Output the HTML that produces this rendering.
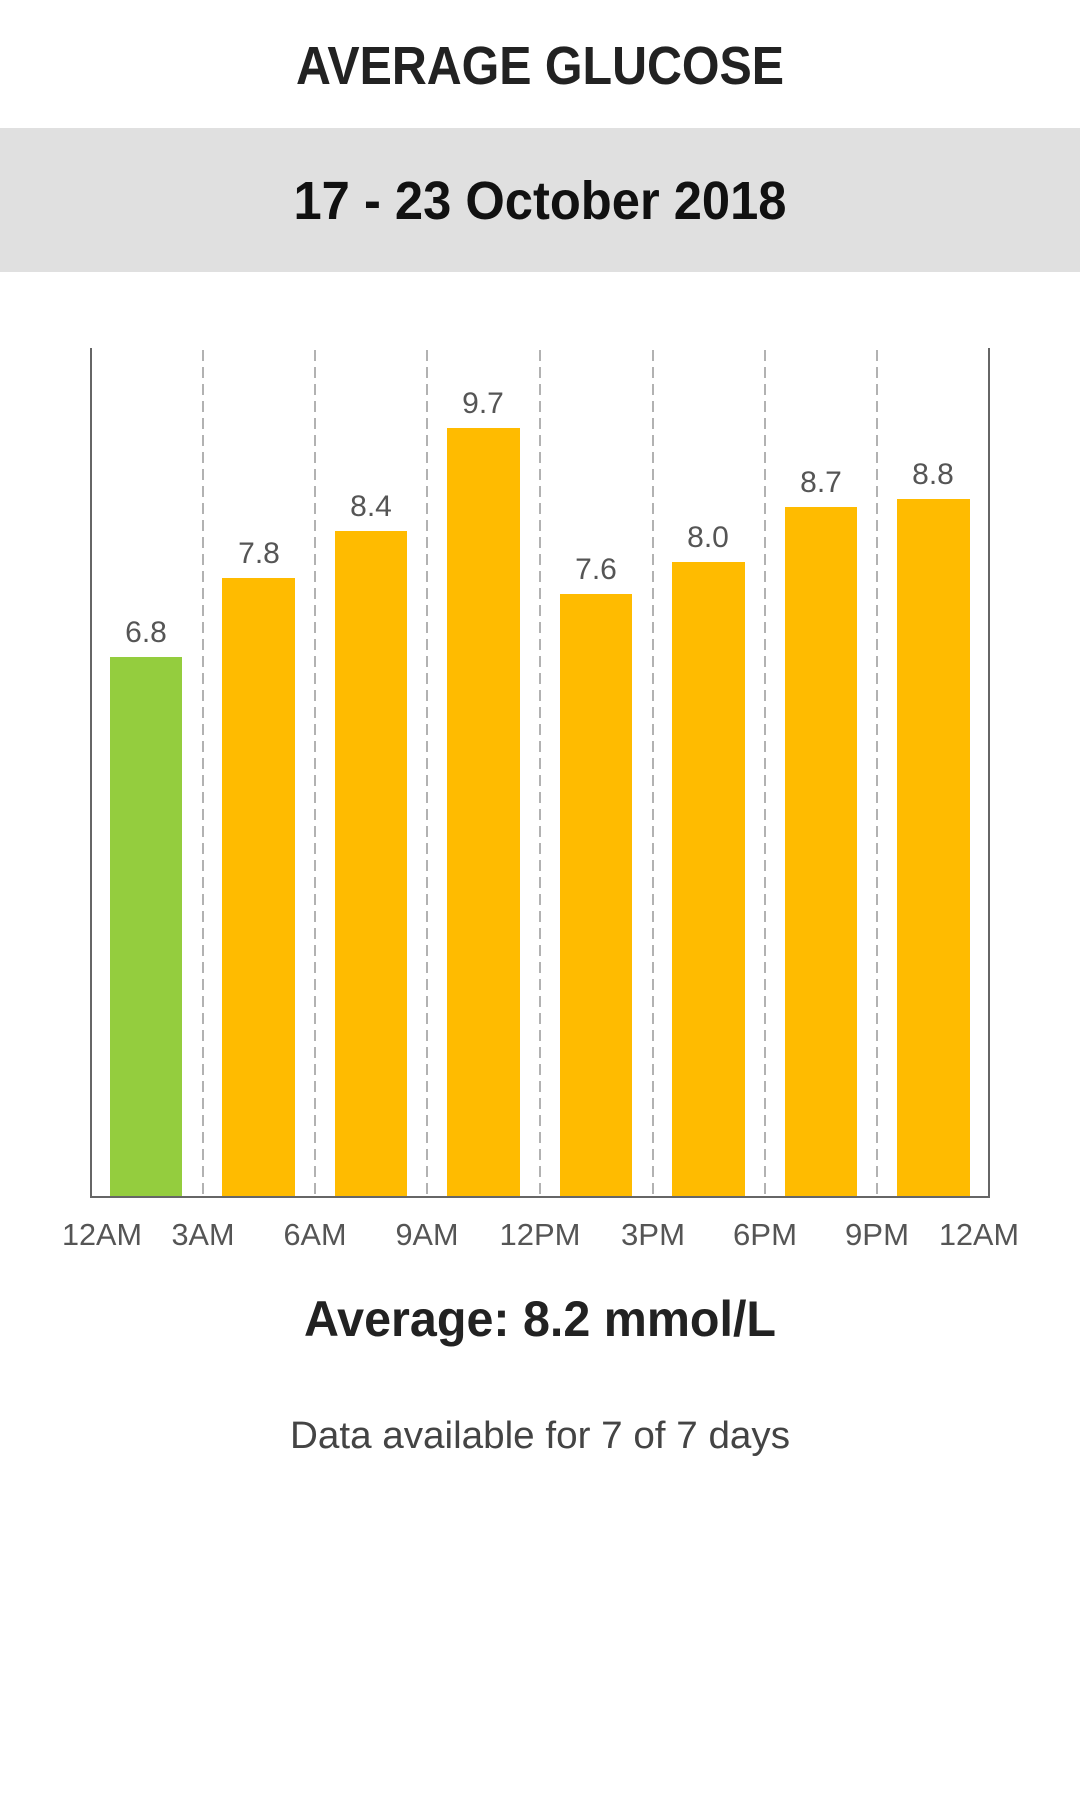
<!DOCTYPE html>
<html><head><meta charset="utf-8"><style>
html,body{margin:0;padding:0;background:#fff;}
svg{display:block;}
</style></head><body>
<svg width="1080" height="1820" viewBox="0 0 1080 1820" xmlns="http://www.w3.org/2000/svg" font-family="Liberation Sans, sans-serif">
<rect width="1080" height="1820" fill="#fff"/>
<text x="540" y="84" text-anchor="middle" font-size="54" font-weight="bold" fill="#222" textLength="488" lengthAdjust="spacingAndGlyphs">AVERAGE GLUCOSE</text>
<rect x="0" y="128" width="1080" height="144" fill="#e0e0e0"/>
<text x="540" y="219" text-anchor="middle" font-size="54" font-weight="bold" fill="#111" textLength="493" lengthAdjust="spacingAndGlyphs">17 - 23 October 2018</text>
<g stroke="#999" stroke-width="1.5" stroke-dasharray="11,6">
<line x1="203" y1="350" x2="203" y2="1196"/>
<line x1="315" y1="350" x2="315" y2="1196"/>
<line x1="427" y1="350" x2="427" y2="1196"/>
<line x1="540" y1="350" x2="540" y2="1196"/>
<line x1="653" y1="350" x2="653" y2="1196"/>
<line x1="765" y1="350" x2="765" y2="1196"/>
<line x1="877" y1="350" x2="877" y2="1196"/>
</g>
<g>
<rect x="110" y="657" width="72" height="539" fill="#94cd3e"/>
<rect x="222" y="578" width="73" height="618" fill="#ffbb00"/>
<rect x="335" y="531" width="72" height="665" fill="#ffbb00"/>
<rect x="447" y="428" width="73" height="768" fill="#ffbb00"/>
<rect x="560" y="594" width="72" height="602" fill="#ffbb00"/>
<rect x="672" y="562" width="73" height="634" fill="#ffbb00"/>
<rect x="785" y="507" width="72" height="689" fill="#ffbb00"/>
<rect x="897" y="499" width="73" height="697" fill="#ffbb00"/>
</g>
<g stroke="#666" stroke-width="2" fill="none">
<polyline points="91,348 91,1197 989,1197 989,348"/>
</g>
<g font-size="30" fill="#555" text-anchor="middle">
<text x="146" y="642">6.8</text>
<text x="259" y="563">7.8</text>
<text x="371" y="516">8.4</text>
<text x="483" y="413">9.7</text>
<text x="596" y="579">7.6</text>
<text x="708" y="547">8.0</text>
<text x="821" y="492">8.7</text>
<text x="933" y="484">8.8</text>
</g>
<g font-size="31" fill="#555" text-anchor="middle">
<text x="102" y="1245" textLength="80" lengthAdjust="spacingAndGlyphs">12AM</text>
<text x="203" y="1245" textLength="63" lengthAdjust="spacingAndGlyphs">3AM</text>
<text x="315" y="1245" textLength="63" lengthAdjust="spacingAndGlyphs">6AM</text>
<text x="427" y="1245" textLength="63" lengthAdjust="spacingAndGlyphs">9AM</text>
<text x="540" y="1245" textLength="81" lengthAdjust="spacingAndGlyphs">12PM</text>
<text x="653" y="1245" textLength="64" lengthAdjust="spacingAndGlyphs">3PM</text>
<text x="765" y="1245" textLength="64" lengthAdjust="spacingAndGlyphs">6PM</text>
<text x="877" y="1245" textLength="64" lengthAdjust="spacingAndGlyphs">9PM</text>
<text x="979" y="1245" textLength="80" lengthAdjust="spacingAndGlyphs">12AM</text>
</g>
<text x="540" y="1336" text-anchor="middle" font-size="50" font-weight="bold" fill="#222" textLength="472" lengthAdjust="spacingAndGlyphs">Average: 8.2 mmol/L</text>
<text x="540" y="1448" text-anchor="middle" font-size="38" fill="#444" textLength="500" lengthAdjust="spacingAndGlyphs">Data available for 7 of 7 days</text>
</svg>
</body></html>
